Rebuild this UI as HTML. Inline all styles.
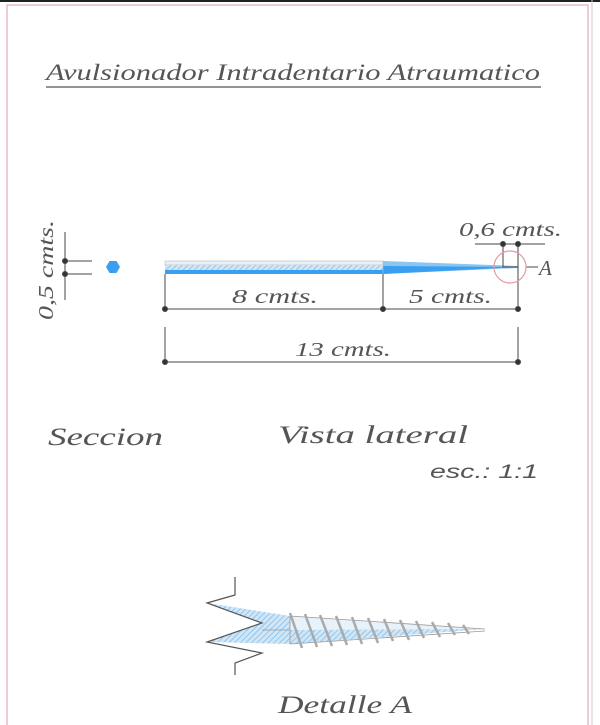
<!DOCTYPE html>
<html><head><meta charset="utf-8"><style>
html,body{margin:0;padding:0;background:#fff;width:600px;height:725px;overflow:hidden}
svg{display:block}
.t{font-family:"Liberation Serif",serif;font-style:italic;fill:#555}
.s{font-family:"Liberation Sans",sans-serif;font-style:italic;fill:#555}
</style></head><body>
<svg width="600" height="725" viewBox="0 0 600 725" xmlns="http://www.w3.org/2000/svg">
<defs>
<pattern id="h" width="4" height="4" patternUnits="userSpaceOnUse" patternTransform="rotate(45)">
<rect width="4" height="4" fill="#cfe6f7"/><line x1="0" y1="0" x2="0" y2="4" stroke="#6fb2e6" stroke-width="1.2"/></pattern>
</defs>
<rect x="0" y="0" width="600" height="2" fill="#222"/>
<rect x="7" y="5" width="581" height="730" fill="none" stroke="#e6a9b8" stroke-width="1.2"/>
<line x1="592" y1="0" x2="592" y2="725" stroke="#ccc" stroke-width="1"/>
<text class="t" x="46" y="80" font-size="23" textLength="494" lengthAdjust="spacingAndGlyphs">Avulsionador Intradentario Atraumatico</text>
<line x1="46" y1="87" x2="541" y2="87" stroke="#555" stroke-width="1.3"/>

<g stroke="#444" stroke-width="1" fill="#333">
<line x1="65" y1="232" x2="65" y2="300"/>
<line x1="65" y1="261" x2="92" y2="261"/>
<line x1="65" y1="274" x2="92" y2="274"/>
<circle cx="65" cy="261" r="2.5"/><circle cx="65" cy="274" r="2.5"/>
</g>
<text class="t" transform="translate(53,320) rotate(-90)" font-size="21" textLength="100" lengthAdjust="spacingAndGlyphs">0,5 cmts.</text>
<polygon points="106,267 109.5,261 116.5,261 120,267 116.5,273 109.5,273" fill="#3a9ff0"/>

<rect x="165" y="261" width="218" height="4" fill="#e6f0f8" stroke="#bbb" stroke-width="0.6"/>
<rect x="165" y="265" width="218" height="5" fill="url(#h)"/>
<rect x="165" y="270" width="218" height="4" fill="#3a9ff0"/>
<polygon points="383,261 518,266 518,268 383,274" fill="#8cc6f0"/>
<polygon points="383,266 518,267 383,274" fill="#3a9ff0"/>
<line x1="383" y1="261" x2="383" y2="274" stroke="#bbb" stroke-width="0.6"/>

<g stroke="#444" stroke-width="1" fill="#333">
<line x1="165" y1="274" x2="165" y2="309"/>
<line x1="383" y1="274" x2="383" y2="309"/>
<line x1="518" y1="244" x2="518" y2="309"/>
<line x1="165" y1="309" x2="518" y2="309"/>
<circle cx="165" cy="309" r="2.5"/><circle cx="383" cy="309" r="2.5"/><circle cx="518" cy="309" r="2.5"/>
<line x1="165" y1="327" x2="165" y2="362"/>
<line x1="518" y1="327" x2="518" y2="362"/>
<line x1="165" y1="362" x2="518" y2="362"/>
<circle cx="165" cy="362" r="2.5"/><circle cx="518" cy="362" r="2.5"/>
<line x1="475" y1="244" x2="545" y2="244"/>
<line x1="503" y1="244" x2="503" y2="267"/>
<line x1="503" y1="267" x2="518" y2="267"/>
<circle cx="503" cy="244" r="2.5"/><circle cx="518" cy="244" r="2.5"/>
<line x1="526" y1="267" x2="538" y2="267"/>
</g>
<circle cx="510" cy="267" r="16" fill="none" stroke="#e59aa4" stroke-width="1.2"/>
<text class="t" x="539" y="275" font-size="21">A</text>
<text class="t" x="232" y="303" font-size="20" textLength="86" lengthAdjust="spacingAndGlyphs">8 cmts.</text>
<text class="t" x="409" y="303" font-size="20" textLength="83" lengthAdjust="spacingAndGlyphs">5 cmts.</text>
<text class="t" x="295" y="356" font-size="20" textLength="96" lengthAdjust="spacingAndGlyphs">13 cmts.</text>
<text class="t" x="459" y="236" font-size="20" textLength="103" lengthAdjust="spacingAndGlyphs">0,6 cmts.</text>

<text class="t" x="48" y="445" font-size="25" textLength="115" lengthAdjust="spacingAndGlyphs">Seccion</text>
<text class="t" x="278" y="443" font-size="25" textLength="190" lengthAdjust="spacingAndGlyphs">Vista lateral</text>
<text class="s" x="430" y="478" font-size="19" textLength="108" lengthAdjust="spacingAndGlyphs">esc.:  1:1</text>

<polygon points="262,623 290,616 290,644 207,642" fill="url(#h)"/>
<polygon points="207,603 262,623 290,623 290,616" fill="url(#h)"/>
<polygon points="290,616 485,629 290,644" fill="#e8f2fa"/>
<polygon points="290,630 485,629 290,644" fill="url(#h)"/>
<g stroke="#999" stroke-width="0.8" fill="none">
<line x1="290" y1="616" x2="485" y2="629"/>
<line x1="290" y1="644" x2="485" y2="631"/>
<line x1="262" y1="630" x2="290" y2="630"/>
<line x1="290" y1="616" x2="290" y2="644"/>
</g>
<g stroke="#aaa" stroke-width="2.5">
<line x1="290" y1="613" x2="302" y2="648"/>
<line x1="305" y1="614" x2="317" y2="647"/>
<line x1="320" y1="615" x2="332" y2="646"/>
<line x1="336" y1="616" x2="347" y2="645"/>
<line x1="352" y1="617" x2="362" y2="644"/>
<line x1="368" y1="618" x2="378" y2="643"/>
<line x1="384" y1="619" x2="393" y2="641"/>
<line x1="400" y1="620" x2="409" y2="640"/>
<line x1="416" y1="621" x2="424" y2="638"/>
<line x1="432" y1="622" x2="440" y2="637"/>
<line x1="448" y1="623" x2="455" y2="635"/>
<line x1="463" y1="625" x2="469" y2="634"/>
</g>
<polyline points="235,577 235,595 207,603 262,623 207,642 262,653 235,663 235,675" fill="none" stroke="#555" stroke-width="1.2"/>
<text class="t" x="278" y="713" font-size="25" textLength="134" lengthAdjust="spacingAndGlyphs">Detalle A</text>
</svg>
</body></html>
